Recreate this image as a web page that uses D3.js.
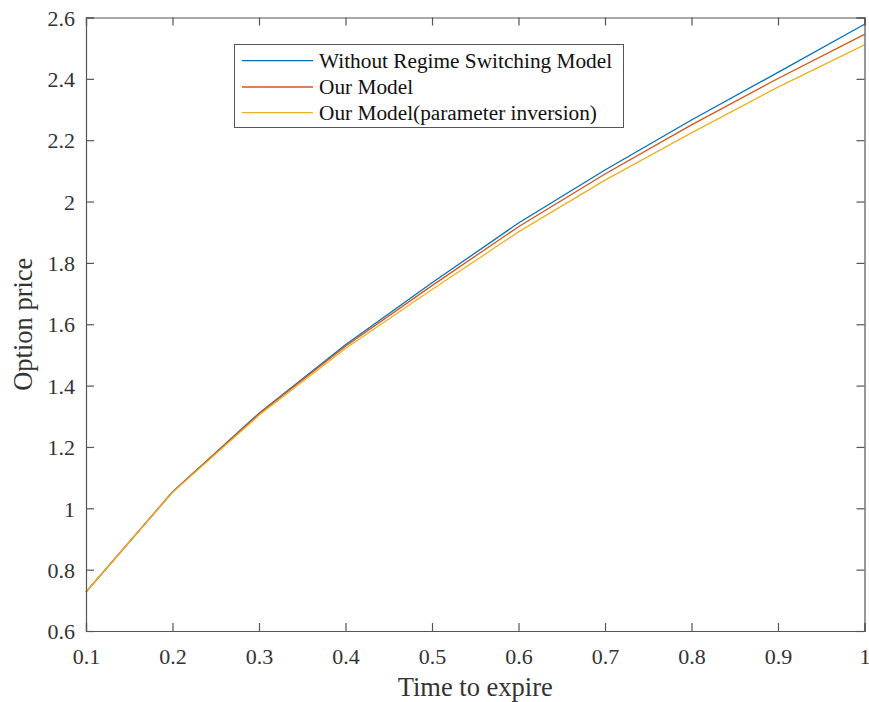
<!DOCTYPE html>
<html>
<head>
<meta charset="utf-8">
<script src="https://cdn.jsdelivr.net/npm/d3@7"></script>
<style>
  body { margin: 0; background: #fff; }
  text { font-family: "Liberation Serif", "Times New Roman", serif; }
</style>
</head>
<body>
<svg id="chart" width="869" height="702"></svg>
<script>
const times = [0.1, 0.2, 0.3, 0.4, 0.5, 0.6, 0.7, 0.8, 0.9, 1.0];
const withoutRS = [0.727, 1.053, 1.310, 1.533, 1.735, 1.930, 2.103, 2.266, 2.421, 2.578];
const ourModel  = [0.727, 1.053, 1.308, 1.528, 1.726, 1.918, 2.090, 2.250, 2.401, 2.545];
const ourModelInv = [0.727, 1.052, 1.303, 1.521, 1.713, 1.901, 2.070, 2.224, 2.373, 2.511];
const seriesNames = ["Without Regime Switching Model", "Our Model", "Our Model(parameter inversion)"];
const seriesColors = ["#0072BD", "#D95319", "#EDB120"];
const xTicks = [0.1, 0.2, 0.3, 0.4, 0.5, 0.6, 0.7, 0.8, 0.9, 1];
const yTicks = [0.6, 0.8, 1, 1.2, 1.4, 1.6, 1.8, 2, 2.2, 2.4, 2.6];

const svg = d3.select("#chart");
const L = 86, R = 864.5, T = 17.5, B = 631;
const x = d3.scaleLinear().domain([0.1, 1]).range([L, R]);
const y = d3.scaleLinear().domain([0.6, 2.6]).range([B, T]);
const axisColor = "#555";
const textColor = "#333";
const tickLen = 8;

// series
const allSeries = [withoutRS, ourModel, ourModelInv];
const line = d3.line().x((d, i) => x(times[i])).y(d => y(d));
allSeries.forEach((s, k) => {
  svg.append("path").datum(s)
    .attr("fill", "none")
    .attr("stroke", seriesColors[k])
    .attr("stroke-width", 1.3)
    .attr("d", line);
});

// axes
const gx = svg.append("g").attr("transform", `translate(0,${B})`)
  .call(d3.axisBottom(x).tickValues(xTicks).tickSize(-tickLen).tickPadding(17).tickFormat(d => String(+d.toFixed(1))));
const gxTop = svg.append("g").attr("transform", `translate(0,${T})`)
  .call(d3.axisTop(x).tickValues(xTicks).tickSize(-tickLen).tickFormat(""));
const gy = svg.append("g").attr("transform", `translate(${L},0)`)
  .call(d3.axisLeft(y).tickValues(yTicks).tickSize(-tickLen).tickPadding(11).tickFormat(d => String(+d.toFixed(1))));
const gyR = svg.append("g").attr("transform", `translate(${R},0)`)
  .call(d3.axisRight(y).tickValues(yTicks).tickSize(-tickLen).tickFormat(""));

[gx, gxTop, gy, gyR].forEach(g => {
  g.select(".domain").attr("stroke", axisColor).attr("stroke-width", 1.2);
  g.selectAll(".tick line").attr("stroke", axisColor).attr("stroke-width", 1.2);
  g.selectAll(".tick text").attr("fill", textColor)
    .style("font-family", '"Liberation Serif", serif').style("font-size", "22px");
});
gx.selectAll(".tick text").attr("dy", "0.71em");
gy.selectAll(".tick text").attr("dy", "0.35em");

// axis labels
svg.append("text").attr("x", (L + R) / 2).attr("y", 696)
  .attr("text-anchor", "middle").attr("fill", textColor)
  .style("font-size", "26.5px").text("Time to expire");
svg.append("text").attr("transform", `translate(32,${(T + B) / 2}) rotate(-90)`)
  .attr("text-anchor", "middle").attr("fill", textColor)
  .style("font-size", "26.5px").text("Option price");

// legend
const lg = svg.append("g");
lg.append("rect").attr("x", 234.5).attr("y", 44.5).attr("width", 389).attr("height", 83)
  .attr("fill", "#fff").attr("stroke", axisColor).attr("stroke-width", 1);
const rowY = [60.7, 87, 112.7];
seriesNames.forEach((n, k) => {
  lg.append("line").attr("x1", 242).attr("x2", 313).attr("y1", rowY[k]).attr("y2", rowY[k])
    .attr("stroke", seriesColors[k]).attr("stroke-width", 1.3);
  lg.append("text").attr("x", 319).attr("y", rowY[k]).attr("dy", "0.35em")
    .attr("fill", "#111").style("font-size", "21.3px").text(n);
});
</script>
</body>
</html>
